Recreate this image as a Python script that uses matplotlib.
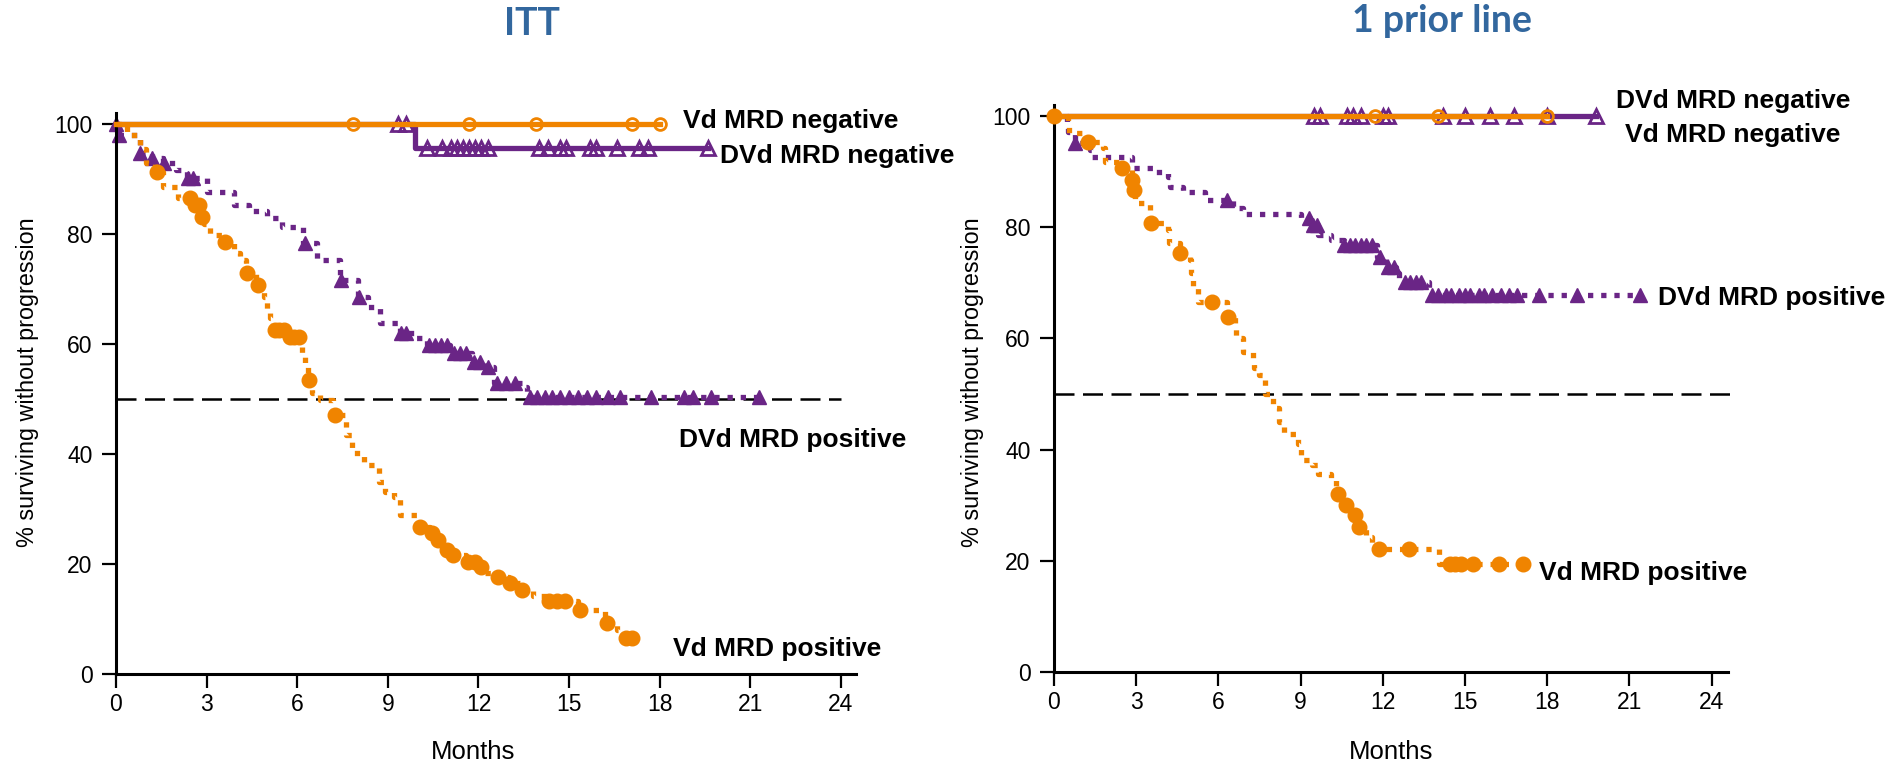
import numpy as np
import matplotlib
matplotlib.use("Agg")
from matplotlib import pyplot as plt

ORANGE = "#F08400"
PURPLE = "#6A2586"
TITLE_BLUE = "#32679E"
W, H = 1903, 767

plt.rcParams["font.family"] = ["Liberation Sans", "DejaVu Sans"]

# --- ITT panel ---
itt_vd_neg_t = [0, 18.0]
itt_vd_neg_s = [100, 100]
itt_vd_neg_cens = [7.85, 11.7, 13.9, 17.1, 18.0]

itt_dvd_neg_t = [0, 9.9, 19.6]
itt_dvd_neg_s = [100, 95.7, 95.7]
itt_dvd_neg_cens = [9.35, 9.6, 10.3, 10.8, 11.1, 11.3, 11.5, 11.7, 11.9, 12.1, 12.3,
                    14.0, 14.3, 14.7, 14.9, 15.7, 15.9, 16.6, 17.3, 17.6, 19.6]

itt_dvd_pos_t = [0, 0.1, 0.8, 1.2, 1.55, 2.0, 2.35, 3.0, 3.9, 4.4, 5.0, 5.5, 6.2, 6.65,
                 7.4, 8.0, 8.35, 8.75, 9.4, 9.85, 10.3, 11.05, 11.8, 12.2, 12.5, 13.5,
                 13.6, 21.3]
itt_dvd_pos_s = [100, 98, 94.7, 93.8, 92.9, 91.6, 90.2, 87.7, 85.3, 84.1, 82.9, 81.3,
                 78.3, 75.3, 71.6, 68.6, 66.8, 63.8, 62.0, 61.1, 59.8, 58.3, 56.8, 55.8,
                 52.9, 52.2, 50.4, 50.4]
itt_dvd_pos_cens = [0.0, 0.1, 0.8, 1.2, 1.6, 2.4, 2.55, 6.25, 7.45, 8.05, 9.45, 9.6,
                    10.35, 10.55, 10.75, 10.95, 11.2, 11.4, 11.6, 11.85, 12.05, 12.3,
                    12.6, 12.9, 13.2, 13.7, 13.95, 14.2, 14.45, 14.7, 15.0, 15.3, 15.6,
                    15.9, 16.3, 16.7, 17.7, 18.8, 19.1, 19.7, 21.3]

itt_vd_pos_t = [0, 0.35, 0.8, 1.0, 1.3, 1.55, 2.05, 2.55, 2.8, 2.9, 3.1, 3.55, 3.9, 4.1,
                4.3, 4.65, 4.9, 5.0, 5.1, 5.2, 5.65, 6.1, 6.15, 6.25, 6.37, 6.5, 6.75,
                7.2, 7.6, 7.8, 8.2, 8.7, 8.9, 9.2, 9.4, 10.0, 10.4, 10.6, 10.9, 11.1,
                11.6, 12.0, 12.2, 12.6, 13.0, 13.4, 13.8, 14.3, 15.3, 16.2, 16.6, 16.8,
                17.1]
itt_vd_pos_s = [100, 98, 95.5, 92.9, 91.3, 88.6, 86.5, 85.3, 83.1, 81.9, 79.8, 78.6,
                76.5, 75.3, 72.9, 70.7, 68.6, 66.2, 64.7, 62.5, 61.3, 59.8, 57.7, 55.9,
                53.5, 51.1, 49.8, 47.1, 43.5, 40.2, 38.0, 35.0, 33.1, 32.2, 28.9, 26.8,
                25.6, 24.4, 22.5, 21.6, 20.4, 19.5, 18.4, 17.7, 16.5, 15.3, 14.1, 13.2,
                11.6, 9.2, 8.0, 6.5, 6.5]
itt_vd_pos_cens = [1.35, 2.45, 2.6, 2.75, 2.85, 3.6, 4.35, 4.7, 5.25, 5.4, 5.55, 5.75,
                   5.9, 6.05, 6.4, 7.25, 10.05, 10.45, 10.65, 10.95, 11.15, 11.65, 11.9,
                   12.1, 12.65, 13.05, 13.45, 14.35, 14.6, 14.85, 15.35, 16.25, 16.9, 17.1]

# --- 1 prior line panel ---
p1_vd_neg_t = [0, 18.0]
p1_vd_neg_s = [100, 100]
p1_vd_neg_cens = [11.7, 14.0, 18.0]

p1_dvd_neg_t = [0, 19.8]
p1_dvd_neg_s = [100, 100]
p1_dvd_neg_cens = [9.5, 9.7, 10.7, 10.9, 11.2, 12.0, 12.2, 14.2, 15.0, 15.9, 16.8,
                   18.0, 19.8]

p1_dvd_pos_t = [0, 0.46, 0.5, 0.77, 1.3, 1.4, 2.84, 3.6, 4.17, 4.23, 4.7, 5.5, 6.55,
                6.9, 9.0, 9.35, 9.65, 10.1, 10.6, 11.8, 12.1, 12.5, 12.6, 13.7, 21.4]
p1_dvd_pos_s = [100, 99, 97.2, 95.1, 93.9, 92.7, 90.6, 90.0, 89.1, 87.3, 86.4, 84.9,
                83.5, 82.4, 81.7, 80.4, 78.6, 77.7, 76.8, 74.7, 72.9, 71.8, 70.2, 67.8,
                67.8]
p1_dvd_pos_cens = [0.77, 6.3, 9.3, 9.45, 9.6, 10.6, 10.8, 11.0, 11.2, 11.4, 11.6, 11.9,
                   12.2, 12.4, 12.8, 13.0, 13.2, 13.4, 13.8, 14.0, 14.3, 14.5, 14.8,
                   15.0, 15.2, 15.5, 15.7, 16.0, 16.3, 16.6, 16.9, 17.7, 19.1, 21.4]

p1_vd_pos_t = [0, 0.5, 0.55, 1.25, 1.8, 1.85, 2.47, 2.84, 2.9, 2.96, 3.5, 3.55, 4.17,
               4.2, 4.6, 4.97, 5.0, 5.08, 5.26, 6.3, 6.6, 6.66, 6.9, 7.27, 7.3, 7.5, 7.7,
               8.0, 8.2, 8.4, 8.9, 9.0, 9.4, 9.65, 10.1, 10.3, 10.6, 10.75, 11.1, 11.4,
               11.6, 14.05, 17.1]
p1_vd_pos_s = [100, 99, 96.9, 95.4, 94.2, 91.8, 90.6, 88.5, 86.7, 84.3, 82.8, 80.7,
               79.5, 77.1, 75.3, 74.1, 71.7, 69.3, 66.6, 63.9, 62.4, 60.0, 57.6, 56.4,
               54.6, 53.4, 50.1, 47.5, 45.0, 42.9, 41.1, 38.1, 37.2, 35.7, 34.5, 32.1,
               30.0, 28.2, 26.1, 24.3, 22.2, 19.5, 19.5]
p1_vd_pos_cens = [0.0, 1.25, 2.5, 2.86, 2.93, 3.55, 4.6, 5.75, 6.35, 10.35, 10.65, 11.0,
                  11.15, 11.85, 12.95, 14.45, 14.65, 14.85, 15.3, 16.25, 17.1]

x_ticks = [0, 3, 6, 9, 12, 15, 18, 21, 24]
y_ticks = [0, 20, 40, 60, 80, 100]

DOTTED = (0, (1, 1.5))
LW = 3.8


def fpx(x, y):
    return x / W, 1 - y / H


def draw_km(ax, times, surv, cens, color, solid, marker, filled, ms, z):
    times = np.asarray(times, float)
    surv = np.asarray(surv, float)
    ax.plot(times, surv, drawstyle="steps-post", color=color, lw=LW,
            linestyle="-" if solid else DOTTED, dash_capstyle="butt",
            zorder=z, clip_on=False)
    idx = np.searchsorted(times, cens, side="right") - 1
    cy = surv[np.clip(idx, 0, len(surv) - 1)]
    if filled:
        ax.plot(cens, cy, linestyle="none", marker=marker, ms=ms, color=color,
                mec=color, zorder=z + 0.5, clip_on=False)
    else:
        ax.plot(cens, cy, linestyle="none", marker=marker, ms=ms, mfc="none",
                mec=color, mew=2.0, zorder=z + 0.5, clip_on=False)


def style_axes(ax, xmax):
    ax.set_xlim(0, xmax)
    ax.set_ylim(0, 102)
    ax.set_xticks(x_ticks)
    ax.set_yticks(y_ticks)
    for side in ("top", "right"):
        ax.spines[side].set_visible(False)
    for side in ("left", "bottom"):
        ax.spines[side].set_linewidth(2.2)
    ax.tick_params(direction="out", length=10, width=1.6, labelsize=16.5)
    ax.tick_params(axis="y", pad=7)
    ax.tick_params(axis="x", pad=4)


fig = plt.figure(figsize=(W / 100, H / 100), dpi=100)

# axes placed in pixel terms of the reference
ax1 = fig.add_axes([116 / W, (H - 674) / H, 740 / W, 561 / H])
ax2 = fig.add_axes([1054 / W, (H - 672) / H, 674 / W, 567 / H])

style_axes(ax1, 24.5)
style_axes(ax2, 24.6)

for ax, xend in ((ax1, 24.0), (ax2, 24.9)):
    ax.plot([0, xend], [50, 50], color="black", lw=1.8, linestyle=(0, (8, 3.4)),
            zorder=1, clip_on=False)

draw_km(ax1, itt_dvd_neg_t, itt_dvd_neg_s, itt_dvd_neg_cens, PURPLE, True, "^", False, 9.5, 2)
draw_km(ax1, itt_vd_neg_t, itt_vd_neg_s, itt_vd_neg_cens, ORANGE, True, "o", False, 8.5, 3)
draw_km(ax1, itt_dvd_pos_t, itt_dvd_pos_s, itt_dvd_pos_cens, PURPLE, False, "^", True, 10.5, 2)
draw_km(ax1, itt_vd_pos_t, itt_vd_pos_s, itt_vd_pos_cens, ORANGE, False, "o", True, 10.5, 3)

draw_km(ax2, p1_dvd_neg_t, p1_dvd_neg_s, p1_dvd_neg_cens, PURPLE, True, "^", False, 9.5, 2)
draw_km(ax2, p1_vd_neg_t, p1_vd_neg_s, p1_vd_neg_cens, ORANGE, True, "o", False, 8.5, 3)
draw_km(ax2, p1_dvd_pos_t, p1_dvd_pos_s, p1_dvd_pos_cens, PURPLE, False, "^", True, 10.5, 2)
draw_km(ax2, p1_vd_pos_t, p1_vd_pos_s, p1_vd_pos_cens, ORANGE, False, "o", True, 10.5, 3)

lab = dict(fontsize=19, fontweight="bold", va="baseline", clip_on=False)
ax1.text(18.77, 99.3, "Vd MRD negative", ha="left", **lab)
ax1.text(20.0, 92.9, "DVd MRD negative", ha="left", **lab)
ax1.text(18.64, 41.3, "DVd MRD positive", ha="left", **lab)
ax1.text(18.44, 3.3, "Vd MRD positive", ha="left", **lab)

ax2.text(24.78, 101.4, "DVd MRD negative", ha="center", **lab)
ax2.text(24.78, 95.3, "Vd MRD negative", ha="center", **lab)
ax2.text(22.04, 66.0, "DVd MRD positive", ha="left", **lab)
ax2.text(17.7, 16.5, "Vd MRD positive", ha="left", **lab)

# titles
title = dict(ha="center", va="baseline", fontsize=27, fontweight="bold",
             color=TITLE_BLUE, family=["Lato", "Liberation Sans"])
fig.text(*fpx(532, 35), "ITT", **title)
fig.text(*fpx(1442, 32), "1 prior line", **title)

# axis labels
for x in (28, 972):
    fig.text(*fpx(x, 382), "% surviving without progression", rotation=90,
             ha="center", va="center", fontsize=16.8)
for x in (473, 1391):
    fig.text(*fpx(x, 752), "Months", ha="center", va="center", fontsize=18.5)

fig.savefig("out.png", dpi=100)
